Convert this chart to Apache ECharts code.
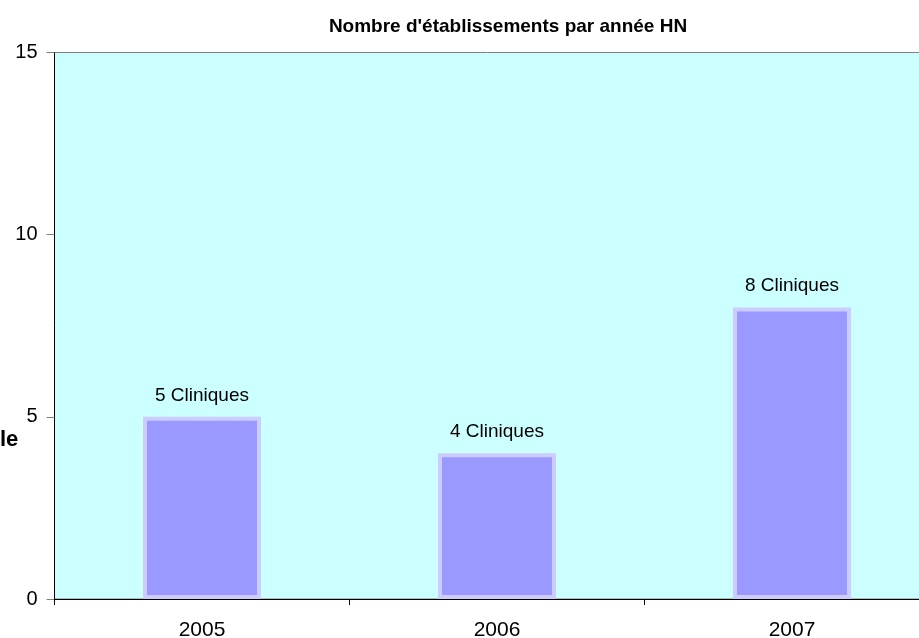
<!DOCTYPE html>
<html>
<head>
<meta charset="utf-8">
<script src="https://cdn.jsdelivr.net/npm/echarts@6/dist/echarts.min.js"></script>
<style>
  html, body { margin: 0; padding: 0; background: #fff; }
  #chart { width: 919px; height: 638px; }
</style>
</head>
<body>
<div id="chart"></div>
<script>
const years = ["2005", "2006", "2007"];
const etablissements = [5, 4, 8];
const yTicks = [0, 5, 10, 15];

const myChart = echarts.init(document.getElementById("chart"));
const option = {
  animation: false,
  textStyle: { fontFamily: "Liberation Sans, Arial, sans-serif" },
  title: {
    text: "Nombre d'établissements par année HN",
    left: 503,
    textAlign: "center",
    top: 12,
    textStyle: { fontSize: 19, fontWeight: "bold", color: "#000" },
  },
  graphic: [
    {
      type: "text",
      left: 0,
      top: 429,
      style: { text: "le", font: "bold 22px Liberation Sans, Arial, sans-serif", fill: "#000" },
    },
  ],
  grid: {
    left: 54.5,
    top: 52.5,
    width: 885,
    bottom: 39,
    outerBoundsMode: "none",
    containLabel: false,
    show: true,
    backgroundColor: "#CCFFFF",
    borderColor: "#808080",
    borderWidth: 1,
  },
  xAxis: {
    type: "category",
    data: years,
    axisLine: { lineStyle: { color: "#000", width: 1 } },
    axisTick: { show: true, length: 6, lineStyle: { color: "#000" } },
    axisLabel: { color: "#000", fontSize: 21, margin: 21 },
  },
  yAxis: {
    type: "value",
    min: yTicks[0],
    max: yTicks[yTicks.length - 1],
    interval: 5,
    axisLine: { show: true, lineStyle: { color: "#000", width: 1 } },
    axisTick: { show: true, length: 8, lineStyle: { color: "#808080" } },
    axisLabel: { color: "#000", fontSize: 20, margin: 17 },
    splitLine: { show: false },
  },
  series: [
    {
      type: "bar",
      data: etablissements,
      barWidth: 118,
      itemStyle: { color: "#9999FF", borderColor: "#CCCCFF", borderWidth: 4 },
      label: {
        show: true,
        position: "top",
        distance: 12,
        color: "#000",
        fontSize: 19,
        formatter: ({ value }) => value + " Cliniques",
      },
    },
  ],
};
myChart.setOption(option);
</script>
</body>
</html>
